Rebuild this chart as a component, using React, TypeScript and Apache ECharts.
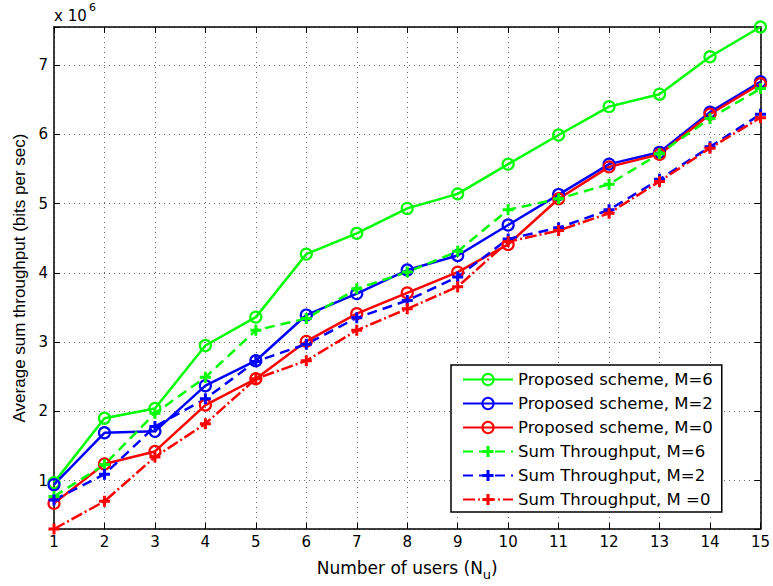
import React, { useEffect, useRef } from 'react';
import * as echarts from 'echarts';

// Number of users (x axis)
const users = [1, 2, 3, 4, 5, 6, 7, 8, 9, 10, 11, 12, 13, 14, 15];
// Values in units of 1e6 bits per sec
const proposedM6 = [0.97, 1.9, 2.04, 2.95, 3.36, 4.27, 4.57, 4.93, 5.14, 5.57, 5.99, 6.4, 6.58, 7.12, 7.55];
const proposedM2 = [0.94, 1.69, 1.71, 2.37, 2.73, 3.39, 3.7, 4.04, 4.25, 4.69, 5.13, 5.57, 5.74, 6.32, 6.76];
const proposedM0 = [0.67, 1.24, 1.42, 2.09, 2.47, 3.01, 3.41, 3.71, 4.01, 4.41, 5.07, 5.53, 5.71, 6.29, 6.73];
const sumM6 = [0.77, 1.23, 1.97, 2.49, 3.17, 3.34, 3.77, 4.01, 4.31, 4.91, 5.07, 5.28, 5.72, 6.23, 6.66];
const sumM2 = [0.72, 1.09, 1.78, 2.18, 2.72, 2.97, 3.35, 3.6, 3.94, 4.49, 4.65, 4.91, 5.35, 5.82, 6.29];
const sumM0 = [0.3, 0.7, 1.34, 1.82, 2.47, 2.73, 3.17, 3.48, 3.8, 4.45, 4.61, 4.86, 5.32, 5.8, 6.24];

const seriesNames = [
  'Proposed scheme, M=6',
  'Proposed scheme, M=2',
  'Proposed scheme, M=0',
  'Sum Throughput, M=6',
  'Sum Throughput, M=2',
  'Sum Throughput, M =0',
];
const yTickValues = [1, 2, 3, 4, 5, 6, 7];
const yMin = 0.3;
const yMax = 7.55;

const FONT = 'DejaVu Sans';
const PLUS = 'path://M4,0H7V4H11V7H7V11H4V7H0V4H4Z';

function pairs(vals: number[]) {
  return users.map((u, i) => [u, vals[i]]);
}

export default function App() {
  const ref = useRef<HTMLDivElement>(null);
  useEffect(() => {
    if (!ref.current) return;
    const chart = echarts.init(ref.current, null, { renderer: 'svg' });

    const solid = (name: string, vals: number[], color: string) => ({
      name,
      type: 'line',
      data: pairs(vals),
      clip: false,
      symbol: 'circle',
      symbolSize: 11,
      lineStyle: { color, width: 2.5, type: 'solid' },
      itemStyle: { color: 'rgba(255,255,255,0)', borderColor: color, borderWidth: 2.2 },
      emphasis: { disabled: true },
    });
    const dashed = (name: string, vals: number[], color: string, dash: number[]) => ({
      name,
      type: 'line',
      data: pairs(vals),
      clip: false,
      symbol: PLUS,
      symbolSize: 11,
      lineStyle: { color, width: 2.5, type: dash },
      itemStyle: { color, borderWidth: 0 },
      emphasis: { disabled: true },
    });

    const axisLine = { show: true, onZero: false, lineStyle: { color: '#000', width: 1.5 } };
    const axisTick = { show: true, inside: true, length: 6, lineStyle: { color: '#000', width: 1 } };
    const grid = { show: true, lineStyle: { color: '#666', type: [1, 4], width: 1 } };

    chart.setOption({
      animation: false,
      backgroundColor: '#fff',
      grid: { left: 54, top: 27, right: 9, bottom: 44 },
      xAxis: [
        {
          type: 'value', min: 1, max: 15, interval: 1, position: 'bottom',
          axisLine, axisTick,
          axisLabel: { color: '#000', fontFamily: FONT, fontSize: 15, margin: 5 },
          splitLine: grid,
          name: '{a|Number of users (N}{s|u}{a|)}',
          nameLocation: 'middle',
          nameGap: 25,
          nameTextStyle: {
            color: '#000',
            rich: {
              a: { fontFamily: FONT, fontSize: 17, color: '#000' },
              s: { fontFamily: FONT, fontSize: 13, color: '#000', padding: [14, 0, 0, 0] },
            },
          },
        },
        {
          type: 'value', min: 1, max: 15, interval: 1, position: 'top',
          axisLine, axisTick, axisLabel: { show: false }, splitLine: { show: false },
        },
      ],
      yAxis: [
        {
          type: 'value', min: yMin, max: yMax, splitNumber: 5, position: 'left',
          axisLine, axisTick,
          axisLabel: {
            color: '#000', fontFamily: FONT, fontSize: 15, margin: 6,
            formatter: (v: number) => (yTickValues.includes(Math.round(v * 1000) / 1000) ? String(v) : ''),
          },
          splitLine: grid,
          name: 'Average sum throughput (bits per sec)',
          nameLocation: 'middle',
          nameGap: 26,
          nameTextStyle: { color: '#000', fontFamily: 'Liberation Sans', fontSize: 17 },
        },
        {
          type: 'value', min: yMin, max: yMax, splitNumber: 5, position: 'right',
          axisLine, axisTick, axisLabel: { show: false }, splitLine: { show: false },
        },
      ],
      legend: {
        orient: 'vertical',
        left: 451,
        top: 365,
        padding: [6, 9, 4, 11],
        itemGap: 7,
        itemWidth: 50,
        itemHeight: 14,
        backgroundColor: '#fff',
        borderColor: '#000',
        borderWidth: 1.5,
        borderRadius: 0,
        selectedMode: false,
        data: seriesNames,
        textStyle: { color: '#000', fontFamily: FONT, fontSize: 16.5 },
      },
      graphic: [
        { type: 'text', left: 54, top: 8, style: { text: 'x 10', font: `15px "${FONT}"`, fill: '#000' } },
        { type: 'text', left: 89, top: 2, style: { text: '6', font: `11px "${FONT}"`, fill: '#000' } },
      ],
      series: [
        solid(seriesNames[0], proposedM6, '#00ff00'),
        solid(seriesNames[1], proposedM2, '#0000ff'),
        solid(seriesNames[2], proposedM0, '#ff0000'),
        dashed(seriesNames[3], sumM6, '#00ff00', [10, 6]),
        dashed(seriesNames[4], sumM2, '#0000ff', [10, 6]),
        dashed(seriesNames[5], sumM0, '#ff0000', [12, 3, 2, 3]),
      ],
    });
    return () => chart.dispose();
  }, []);
  return <div ref={ref} style={{ width: 773, height: 586, position: 'absolute', left: 0, top: 0 }} />;
}
